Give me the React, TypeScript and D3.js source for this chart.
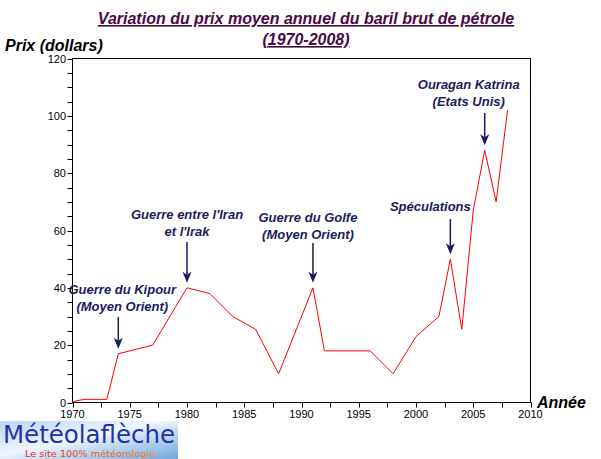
import React from "react";
import * as d3 from "d3";

const years = [1970, 1971, 1973, 1974, 1977, 1980, 1982, 1984, 1986, 1988, 1991, 1992, 1996, 1998, 2000, 2002, 2003, 2004, 2005, 2006, 2007, 2008];
const prices = [0.3, 1.1, 1.1, 17, 20, 40, 38, 30, 25.5, 10, 40, 18, 18, 10, 23, 30, 50, 25.5, 67, 88, 70, 102];
const xTickLabels = [1970, 1975, 1980, 1985, 1990, 1995, 2000, 2005, 2010];
const yTickLabels = [0, 20, 40, 60, 80, 100, 120];

const annotLines = [
  ["Guerre du Kipour", "(Moyen Orient)"],
  ["Guerre entre l'Iran", "et l'Irak"],
  ["Guerre du Golfe", "(Moyen Orient)"],
  ["Spéculations"],
  ["Ouragan Katrina", "(Etats Unis)"],
];
const annotYears = [1974, 1980, 1991, 2003, 2006];
const annotValues = [17, 40, 40, 50, 88];

const W = 601, H = 459;
const FONT = "'Liberation Sans', Arial, sans-serif";
const NAVY = "#1b1b5e";

export default function App() {
  const x = d3.scaleLinear().domain([1970, 2010]).range([72.5, 530.5]);
  const y = d3.scaleLinear().domain([0, 120]).range([402.5, 58.5]);
  const line = d3.line<number>().x((_, i) => x(years[i])).y((d) => y(d));
  const minorX = d3.range(1970, 2010.01, 2.5);
  const minorY = d3.range(0, 120.01, 5);

  const annotCfg = [
    { dx: 4, ty: 294, a0: 317 },
    { dx: 0, ty: 219, a0: 242 },
    { dx: -5, ty: 222, a0: 243 },
    { dx: -20, ty: 211, a0: 219 },
    { dx: -16, ty: 89, a0: 113 },
  ];

  return (
    <svg width={W} height={H} style={{ position: "absolute", left: 0, top: 0, background: "#fff" }} fontFamily={FONT}>
      <defs>
        <linearGradient id="sky" x1="0" y1="0" x2="1" y2="1">
          <stop offset="0" stopColor="#b9d6f3" />
          <stop offset="0.45" stopColor="#eef5fc" />
          <stop offset="1" stopColor="#6fa6e0" />
        </linearGradient>
        <linearGradient id="slogan" x1="0" y1="0" x2="1" y2="0">
          <stop offset="0" stopColor="#e0201a" />
          <stop offset="1" stopColor="#f08a1c" />
        </linearGradient>
      </defs>
      {/* Title */}
      <g fill="#4a0a45" fontWeight="bold" fontStyle="italic" fontSize={16} textAnchor="middle" textDecoration="underline">
        <text x={306} y={24}>Variation du prix moyen annuel du baril brut de pétrole</text>
        <text x={306} y={45}>(1970-2008)</text>
      </g>
      <text x={5} y={51} fontSize={16} fontWeight="bold" fontStyle="italic" fill="#000">Prix (dollars)</text>
      <text x={537} y={408} fontSize={16} fontWeight="bold" fontStyle="italic" fill="#000">Année</text>

      {/* Frame */}
      <rect x={x(1970)} y={y(120)} width={x(2010) - x(1970)} height={y(0) - y(120)} fill="none" stroke="#000" strokeWidth={1} />

      {/* Y ticks */}
      {minorY.map((v) => (
        <line key={"yt" + v} x1={x(1970) - 5} x2={x(1970)} y1={Math.round(y(v)) + 0.5} y2={Math.round(y(v)) + 0.5} stroke="#000" />
      ))}
      {yTickLabels.map((v) => (
        <text key={"yl" + v} x={66} y={Math.round(y(v)) + 4} fontSize={11} textAnchor="end" fill="#000">{v}</text>
      ))}
      {/* X ticks */}
      {minorX.map((v) => (
        <line key={"xt" + v} x1={Math.round(x(v)) + 0.5} x2={Math.round(x(v)) + 0.5} y1={y(0)} y2={y(0) + 5} stroke="#000" />
      ))}
      {xTickLabels.map((v) => (
        <text key={"xl" + v} x={x(v)} y={418} fontSize={11} textAnchor="middle" fill="#000">{v}</text>
      ))}

      {/* Data line */}
      <path d={line(prices) || ""} fill="none" stroke="#ff0000" strokeWidth={1} />

      {/* Annotations */}
      {annotLines.map((ls, i) => {
        const ax = x(annotYears[i]);
        const cfg = annotCfg[i];
        const tipY = y(annotValues[i]) - 5;
        return (
          <g key={"an" + i}>
            {ls.map((t, j) => (
              <text key={j} x={ax + cfg.dx} y={cfg.ty + j * 16.5} fontSize={13} fontWeight="bold" fontStyle="italic" fill={NAVY} textAnchor="middle">{t}</text>
            ))}
            <line x1={ax} x2={ax} y1={cfg.a0} y2={tipY - 6} stroke={NAVY} strokeWidth={1.5} />
            <path d={`M${ax - 4.5},${tipY - 11} L${ax},${tipY - 8} L${ax + 4.5},${tipY - 11} L${ax},${tipY} Z`} fill={NAVY} />
          </g>
        );
      })}

      {/* Logo */}
      <g>
        <rect x={0} y={421} width={178} height={38} fill="url(#sky)" />
        <text x={3} y={443} fontSize={24} fill="#2233a6" fontFamily="'DejaVu Sans', sans-serif" textLength={172} lengthAdjust="spacingAndGlyphs">Météolaflèche</text>
        <text x={25} y={457} fontSize={9} fill="url(#slogan)" fontFamily="'DejaVu Sans', sans-serif" textLength={130} lengthAdjust="spacingAndGlyphs">Le site 100% météorologie</text>
      </g>
    </svg>
  );
}
